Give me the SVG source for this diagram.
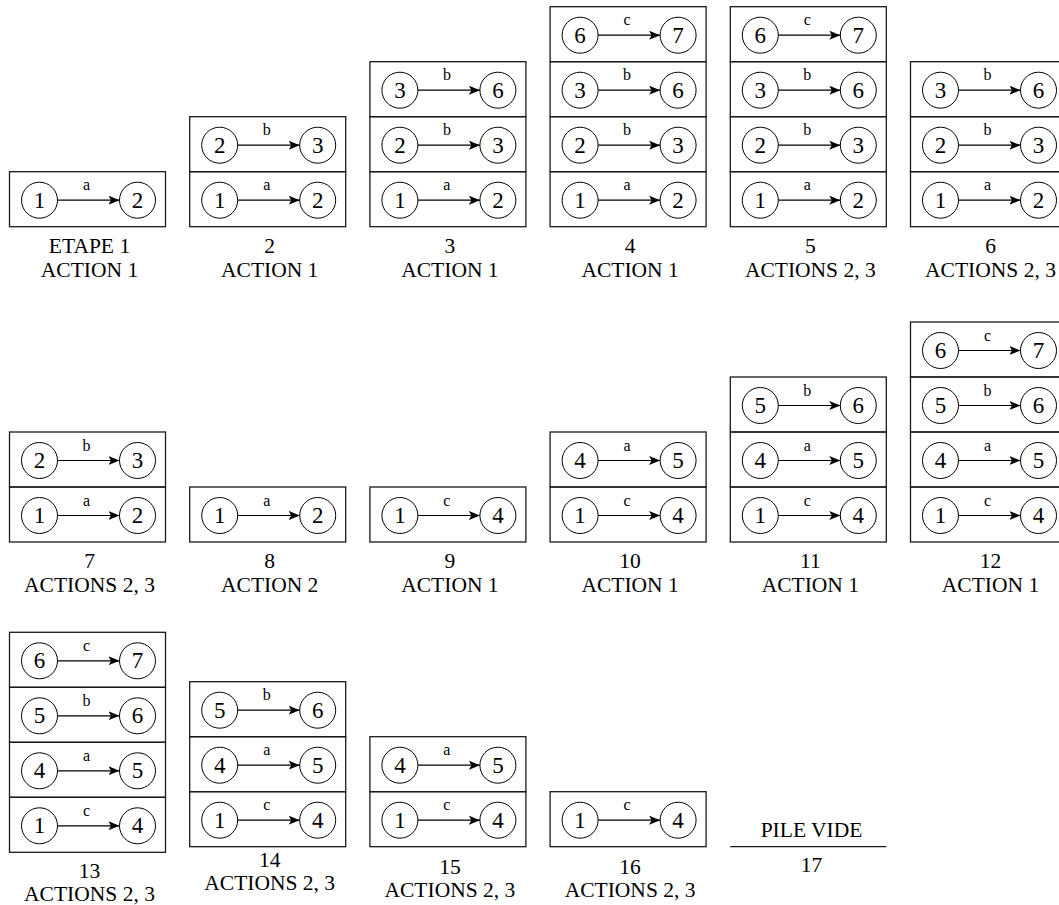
<svg xmlns="http://www.w3.org/2000/svg" width="1059" height="905" viewBox="0 0 1059 905" font-family="Liberation Serif, Times New Roman, DejaVu Serif, serif">
<style>
.box{fill:none;stroke:#1a1a1a;stroke-width:1.3}
.nd{fill:#fff;stroke:#000;stroke-width:1}
text{font-family:"Liberation Serif","Times New Roman","DejaVu Serif",serif;fill:#000;text-anchor:middle}
.num{font-size:23px}
.lbl{font-size:16px}
.cap{font-size:21.5px}
.arr{stroke:#000;stroke-width:1.2;fill:none;marker-end:url(#ah)}
</style>
<defs>
<marker id="ah" markerUnits="userSpaceOnUse" markerWidth="12" markerHeight="10" refX="11" refY="4.5" orient="auto">
<path d="M0,0 L11,4.5 L0,9 L2.5,4.5 Z" fill="#000"/>
</marker>
</defs>
<rect width="1059" height="905" fill="#fff"/>

<!-- stack 1 -->
<g id="s1">
<g transform="translate(9.5,171.7)"><rect class="box" width="156" height="55"/><circle class="nd" cx="30" cy="28.5" r="18"/><circle class="nd" cx="128" cy="28.5" r="18"/><text class="num" x="30" y="36">1</text><text class="num" x="128" y="36">2</text></g>
<text class="cap" x="89.5" y="252.7">ETAPE 1</text><text class="cap" x="89.5" y="276.7">ACTION 1</text>
</g>
<!-- stack 2 -->
<g id="s2">
<g transform="translate(189.7,171.7)"><rect class="box" width="156" height="55"/><circle class="nd" cx="30" cy="28.5" r="18"/><circle class="nd" cx="128" cy="28.5" r="18"/><text class="num" x="30" y="36">1</text><text class="num" x="128" y="36">2</text></g>
<g transform="translate(189.7,116.7)"><rect class="box" width="156" height="55"/><circle class="nd" cx="30" cy="28.5" r="18"/><circle class="nd" cx="128" cy="28.5" r="18"/><text class="num" x="30" y="36">2</text><text class="num" x="128" y="36">3</text></g>
<text class="cap" x="269.7" y="252.7">2</text><text class="cap" x="269.7" y="276.7">ACTION 1</text>
</g>
<!-- stack 3 -->
<g id="s3">
<g transform="translate(369.9,171.7)"><rect class="box" width="156" height="55"/><circle class="nd" cx="30" cy="28.5" r="18"/><circle class="nd" cx="128" cy="28.5" r="18"/><text class="num" x="30" y="36">1</text><text class="num" x="128" y="36">2</text></g>
<g transform="translate(369.9,116.7)"><rect class="box" width="156" height="55"/><circle class="nd" cx="30" cy="28.5" r="18"/><circle class="nd" cx="128" cy="28.5" r="18"/><text class="num" x="30" y="36">2</text><text class="num" x="128" y="36">3</text></g>
<g transform="translate(369.9,61.7)"><rect class="box" width="156" height="55"/><circle class="nd" cx="30" cy="28.5" r="18"/><circle class="nd" cx="128" cy="28.5" r="18"/><text class="num" x="30" y="36">3</text><text class="num" x="128" y="36">6</text></g>
<text class="cap" x="449.9" y="252.7">3</text><text class="cap" x="449.9" y="276.7">ACTION 1</text>
</g>
<!-- stack 4 -->
<g id="s4">
<g transform="translate(550.1,171.7)"><rect class="box" width="156" height="55"/><circle class="nd" cx="30" cy="28.5" r="18"/><circle class="nd" cx="128" cy="28.5" r="18"/><text class="num" x="30" y="36">1</text><text class="num" x="128" y="36">2</text></g>
<g transform="translate(550.1,116.7)"><rect class="box" width="156" height="55"/><circle class="nd" cx="30" cy="28.5" r="18"/><circle class="nd" cx="128" cy="28.5" r="18"/><text class="num" x="30" y="36">2</text><text class="num" x="128" y="36">3</text></g>
<g transform="translate(550.1,61.7)"><rect class="box" width="156" height="55"/><circle class="nd" cx="30" cy="28.5" r="18"/><circle class="nd" cx="128" cy="28.5" r="18"/><text class="num" x="30" y="36">3</text><text class="num" x="128" y="36">6</text></g>
<g transform="translate(550.1,6.7)"><rect class="box" width="156" height="55"/><circle class="nd" cx="30" cy="28.5" r="18"/><circle class="nd" cx="128" cy="28.5" r="18"/><text class="num" x="30" y="36">6</text><text class="num" x="128" y="36">7</text></g>
<text class="cap" x="630.1" y="252.7">4</text><text class="cap" x="630.1" y="276.7">ACTION 1</text>
</g>
<!-- stack 5 -->
<g id="s5">
<g transform="translate(730.3,171.7)"><rect class="box" width="156" height="55"/><circle class="nd" cx="30" cy="28.5" r="18"/><circle class="nd" cx="128" cy="28.5" r="18"/><text class="num" x="30" y="36">1</text><text class="num" x="128" y="36">2</text></g>
<g transform="translate(730.3,116.7)"><rect class="box" width="156" height="55"/><circle class="nd" cx="30" cy="28.5" r="18"/><circle class="nd" cx="128" cy="28.5" r="18"/><text class="num" x="30" y="36">2</text><text class="num" x="128" y="36">3</text></g>
<g transform="translate(730.3,61.7)"><rect class="box" width="156" height="55"/><circle class="nd" cx="30" cy="28.5" r="18"/><circle class="nd" cx="128" cy="28.5" r="18"/><text class="num" x="30" y="36">3</text><text class="num" x="128" y="36">6</text></g>
<g transform="translate(730.3,6.7)"><rect class="box" width="156" height="55"/><circle class="nd" cx="30" cy="28.5" r="18"/><circle class="nd" cx="128" cy="28.5" r="18"/><text class="num" x="30" y="36">6</text><text class="num" x="128" y="36">7</text></g>
<text class="cap" x="810.3" y="252.7">5</text><text class="cap" x="810.3" y="276.7">ACTIONS 2, 3</text>
</g>
<!-- stack 6 -->
<g id="s6">
<g transform="translate(910.5,171.7)"><rect class="box" width="156" height="55"/><circle class="nd" cx="30" cy="28.5" r="18"/><circle class="nd" cx="128" cy="28.5" r="18"/><text class="num" x="30" y="36">1</text><text class="num" x="128" y="36">2</text></g>
<g transform="translate(910.5,116.7)"><rect class="box" width="156" height="55"/><circle class="nd" cx="30" cy="28.5" r="18"/><circle class="nd" cx="128" cy="28.5" r="18"/><text class="num" x="30" y="36">2</text><text class="num" x="128" y="36">3</text></g>
<g transform="translate(910.5,61.7)"><rect class="box" width="156" height="55"/><circle class="nd" cx="30" cy="28.5" r="18"/><circle class="nd" cx="128" cy="28.5" r="18"/><text class="num" x="30" y="36">3</text><text class="num" x="128" y="36">6</text></g>
<text class="cap" x="990.5" y="252.7">6</text><text class="cap" x="990.5" y="276.7">ACTIONS 2, 3</text>
</g>

<!-- stack 7 -->
<g id="s7">
<g transform="translate(9.5,487)"><rect class="box" width="156" height="55"/><circle class="nd" cx="30" cy="28.5" r="18"/><circle class="nd" cx="128" cy="28.5" r="18"/><text class="num" x="30" y="36">1</text><text class="num" x="128" y="36">2</text></g>
<g transform="translate(9.5,432)"><rect class="box" width="156" height="55"/><circle class="nd" cx="30" cy="28.5" r="18"/><circle class="nd" cx="128" cy="28.5" r="18"/><text class="num" x="30" y="36">2</text><text class="num" x="128" y="36">3</text></g>
<text class="cap" x="89.5" y="568">7</text><text class="cap" x="89.5" y="592">ACTIONS 2, 3</text>
</g>
<!-- stack 8 -->
<g id="s8">
<g transform="translate(189.7,487)"><rect class="box" width="156" height="55"/><circle class="nd" cx="30" cy="28.5" r="18"/><circle class="nd" cx="128" cy="28.5" r="18"/><text class="num" x="30" y="36">1</text><text class="num" x="128" y="36">2</text></g>
<text class="cap" x="269.7" y="568">8</text><text class="cap" x="269.7" y="592">ACTION 2</text>
</g>
<!-- stack 9 -->
<g id="s9">
<g transform="translate(369.9,487)"><rect class="box" width="156" height="55"/><circle class="nd" cx="30" cy="28.5" r="18"/><circle class="nd" cx="128" cy="28.5" r="18"/><text class="num" x="30" y="36">1</text><text class="num" x="128" y="36">4</text></g>
<text class="cap" x="449.9" y="568">9</text><text class="cap" x="449.9" y="592">ACTION 1</text>
</g>
<!-- stack 10 -->
<g id="s10">
<g transform="translate(550.1,487)"><rect class="box" width="156" height="55"/><circle class="nd" cx="30" cy="28.5" r="18"/><circle class="nd" cx="128" cy="28.5" r="18"/><text class="num" x="30" y="36">1</text><text class="num" x="128" y="36">4</text></g>
<g transform="translate(550.1,432)"><rect class="box" width="156" height="55"/><circle class="nd" cx="30" cy="28.5" r="18"/><circle class="nd" cx="128" cy="28.5" r="18"/><text class="num" x="30" y="36">4</text><text class="num" x="128" y="36">5</text></g>
<text class="cap" x="630.1" y="568">10</text><text class="cap" x="630.1" y="592">ACTION 1</text>
</g>
<!-- stack 11 -->
<g id="s11">
<g transform="translate(730.3,487)"><rect class="box" width="156" height="55"/><circle class="nd" cx="30" cy="28.5" r="18"/><circle class="nd" cx="128" cy="28.5" r="18"/><text class="num" x="30" y="36">1</text><text class="num" x="128" y="36">4</text></g>
<g transform="translate(730.3,432)"><rect class="box" width="156" height="55"/><circle class="nd" cx="30" cy="28.5" r="18"/><circle class="nd" cx="128" cy="28.5" r="18"/><text class="num" x="30" y="36">4</text><text class="num" x="128" y="36">5</text></g>
<g transform="translate(730.3,377)"><rect class="box" width="156" height="55"/><circle class="nd" cx="30" cy="28.5" r="18"/><circle class="nd" cx="128" cy="28.5" r="18"/><text class="num" x="30" y="36">5</text><text class="num" x="128" y="36">6</text></g>
<text class="cap" x="810.3" y="568">11</text><text class="cap" x="810.3" y="592">ACTION 1</text>
</g>
<!-- stack 12 -->
<g id="s12">
<g transform="translate(910.5,487)"><rect class="box" width="156" height="55"/><circle class="nd" cx="30" cy="28.5" r="18"/><circle class="nd" cx="128" cy="28.5" r="18"/><text class="num" x="30" y="36">1</text><text class="num" x="128" y="36">4</text></g>
<g transform="translate(910.5,432)"><rect class="box" width="156" height="55"/><circle class="nd" cx="30" cy="28.5" r="18"/><circle class="nd" cx="128" cy="28.5" r="18"/><text class="num" x="30" y="36">4</text><text class="num" x="128" y="36">5</text></g>
<g transform="translate(910.5,377)"><rect class="box" width="156" height="55"/><circle class="nd" cx="30" cy="28.5" r="18"/><circle class="nd" cx="128" cy="28.5" r="18"/><text class="num" x="30" y="36">5</text><text class="num" x="128" y="36">6</text></g>
<g transform="translate(910.5,322)"><rect class="box" width="156" height="55"/><circle class="nd" cx="30" cy="28.5" r="18"/><circle class="nd" cx="128" cy="28.5" r="18"/><text class="num" x="30" y="36">6</text><text class="num" x="128" y="36">7</text></g>
<text class="cap" x="990.5" y="568">12</text><text class="cap" x="990.5" y="592">ACTION 1</text>
</g>

<!-- stack 13 -->
<g id="s13">
<g transform="translate(9.5,797.3)"><rect class="box" width="156" height="55"/><circle class="nd" cx="30" cy="28.5" r="18"/><circle class="nd" cx="128" cy="28.5" r="18"/><text class="num" x="30" y="36">1</text><text class="num" x="128" y="36">4</text></g>
<g transform="translate(9.5,742.3)"><rect class="box" width="156" height="55"/><circle class="nd" cx="30" cy="28.5" r="18"/><circle class="nd" cx="128" cy="28.5" r="18"/><text class="num" x="30" y="36">4</text><text class="num" x="128" y="36">5</text></g>
<g transform="translate(9.5,687.3)"><rect class="box" width="156" height="55"/><circle class="nd" cx="30" cy="28.5" r="18"/><circle class="nd" cx="128" cy="28.5" r="18"/><text class="num" x="30" y="36">5</text><text class="num" x="128" y="36">6</text></g>
<g transform="translate(9.5,632.3)"><rect class="box" width="156" height="55"/><circle class="nd" cx="30" cy="28.5" r="18"/><circle class="nd" cx="128" cy="28.5" r="18"/><text class="num" x="30" y="36">6</text><text class="num" x="128" y="36">7</text></g>
<text class="cap" x="89.5" y="878">13</text><text class="cap" x="89.5" y="901">ACTIONS 2, 3</text>
</g>
<!-- stack 14 -->
<g id="s14">
<g transform="translate(189.7,791.7)"><rect class="box" width="156" height="55"/><circle class="nd" cx="30" cy="28.5" r="18"/><circle class="nd" cx="128" cy="28.5" r="18"/><text class="num" x="30" y="36">1</text><text class="num" x="128" y="36">4</text></g>
<g transform="translate(189.7,736.7)"><rect class="box" width="156" height="55"/><circle class="nd" cx="30" cy="28.5" r="18"/><circle class="nd" cx="128" cy="28.5" r="18"/><text class="num" x="30" y="36">4</text><text class="num" x="128" y="36">5</text></g>
<g transform="translate(189.7,681.7)"><rect class="box" width="156" height="55"/><circle class="nd" cx="30" cy="28.5" r="18"/><circle class="nd" cx="128" cy="28.5" r="18"/><text class="num" x="30" y="36">5</text><text class="num" x="128" y="36">6</text></g>
<text class="cap" x="269.7" y="867">14</text><text class="cap" x="269.7" y="890">ACTIONS 2, 3</text>
</g>
<!-- stack 15 -->
<g id="s15">
<g transform="translate(369.9,791.7)"><rect class="box" width="156" height="55"/><circle class="nd" cx="30" cy="28.5" r="18"/><circle class="nd" cx="128" cy="28.5" r="18"/><text class="num" x="30" y="36">1</text><text class="num" x="128" y="36">4</text></g>
<g transform="translate(369.9,736.7)"><rect class="box" width="156" height="55"/><circle class="nd" cx="30" cy="28.5" r="18"/><circle class="nd" cx="128" cy="28.5" r="18"/><text class="num" x="30" y="36">4</text><text class="num" x="128" y="36">5</text></g>
<text class="cap" x="449.9" y="874">15</text><text class="cap" x="449.9" y="897">ACTIONS 2, 3</text>
</g>
<!-- stack 16 -->
<g id="s16">
<g transform="translate(550.1,791.7)"><rect class="box" width="156" height="55"/><circle class="nd" cx="30" cy="28.5" r="18"/><circle class="nd" cx="128" cy="28.5" r="18"/><text class="num" x="30" y="36">1</text><text class="num" x="128" y="36">4</text></g>
<text class="cap" x="630.1" y="874">16</text><text class="cap" x="630.1" y="897">ACTIONS 2, 3</text>
</g>
<!-- stack 17: empty -->
<g id="s17">
<text class="cap" x="811.5" y="837">PILE VIDE</text>
<line x1="730.3" y1="846.7" x2="886.3" y2="846.7" stroke="#1a1a1a" stroke-width="1.3"/>
<text class="cap" x="811.5" y="872">17</text>
</g>

<!-- labelled arrows inside every cell -->
<g id="connectors">
<g transform="translate(9.5,171.7)"><line class="arr" x1="48" y1="28.5" x2="110" y2="28.5"/><text class="lbl" x="77" y="18.5">a</text></g>

<g transform="translate(189.7,171.7)"><line class="arr" x1="48" y1="28.5" x2="110" y2="28.5"/><text class="lbl" x="77" y="18.5">a</text></g>
<g transform="translate(189.7,116.7)"><line class="arr" x1="48" y1="28.5" x2="110" y2="28.5"/><text class="lbl" x="77" y="18.5">b</text></g>

<g transform="translate(369.9,171.7)"><line class="arr" x1="48" y1="28.5" x2="110" y2="28.5"/><text class="lbl" x="77" y="18.5">a</text></g>
<g transform="translate(369.9,116.7)"><line class="arr" x1="48" y1="28.5" x2="110" y2="28.5"/><text class="lbl" x="77" y="18.5">b</text></g>
<g transform="translate(369.9,61.7)"><line class="arr" x1="48" y1="28.5" x2="110" y2="28.5"/><text class="lbl" x="77" y="18.5">b</text></g>

<g transform="translate(550.1,171.7)"><line class="arr" x1="48" y1="28.5" x2="110" y2="28.5"/><text class="lbl" x="77" y="18.5">a</text></g>
<g transform="translate(550.1,116.7)"><line class="arr" x1="48" y1="28.5" x2="110" y2="28.5"/><text class="lbl" x="77" y="18.5">b</text></g>
<g transform="translate(550.1,61.7)"><line class="arr" x1="48" y1="28.5" x2="110" y2="28.5"/><text class="lbl" x="77" y="18.5">b</text></g>
<g transform="translate(550.1,6.7)"><line class="arr" x1="48" y1="28.5" x2="110" y2="28.5"/><text class="lbl" x="77" y="18.5">c</text></g>

<g transform="translate(730.3,171.7)"><line class="arr" x1="48" y1="28.5" x2="110" y2="28.5"/><text class="lbl" x="77" y="18.5">a</text></g>
<g transform="translate(730.3,116.7)"><line class="arr" x1="48" y1="28.5" x2="110" y2="28.5"/><text class="lbl" x="77" y="18.5">b</text></g>
<g transform="translate(730.3,61.7)"><line class="arr" x1="48" y1="28.5" x2="110" y2="28.5"/><text class="lbl" x="77" y="18.5">b</text></g>
<g transform="translate(730.3,6.7)"><line class="arr" x1="48" y1="28.5" x2="110" y2="28.5"/><text class="lbl" x="77" y="18.5">c</text></g>

<g transform="translate(910.5,171.7)"><line class="arr" x1="48" y1="28.5" x2="110" y2="28.5"/><text class="lbl" x="77" y="18.5">a</text></g>
<g transform="translate(910.5,116.7)"><line class="arr" x1="48" y1="28.5" x2="110" y2="28.5"/><text class="lbl" x="77" y="18.5">b</text></g>
<g transform="translate(910.5,61.7)"><line class="arr" x1="48" y1="28.5" x2="110" y2="28.5"/><text class="lbl" x="77" y="18.5">b</text></g>

<g transform="translate(9.5,487)"><line class="arr" x1="48" y1="28.5" x2="110" y2="28.5"/><text class="lbl" x="77" y="18.5">a</text></g>
<g transform="translate(9.5,432)"><line class="arr" x1="48" y1="28.5" x2="110" y2="28.5"/><text class="lbl" x="77" y="18.5">b</text></g>

<g transform="translate(189.7,487)"><line class="arr" x1="48" y1="28.5" x2="110" y2="28.5"/><text class="lbl" x="77" y="18.5">a</text></g>

<g transform="translate(369.9,487)"><line class="arr" x1="48" y1="28.5" x2="110" y2="28.5"/><text class="lbl" x="77" y="18.5">c</text></g>

<g transform="translate(550.1,487)"><line class="arr" x1="48" y1="28.5" x2="110" y2="28.5"/><text class="lbl" x="77" y="18.5">c</text></g>
<g transform="translate(550.1,432)"><line class="arr" x1="48" y1="28.5" x2="110" y2="28.5"/><text class="lbl" x="77" y="18.5">a</text></g>

<g transform="translate(730.3,487)"><line class="arr" x1="48" y1="28.5" x2="110" y2="28.5"/><text class="lbl" x="77" y="18.5">c</text></g>
<g transform="translate(730.3,432)"><line class="arr" x1="48" y1="28.5" x2="110" y2="28.5"/><text class="lbl" x="77" y="18.5">a</text></g>
<g transform="translate(730.3,377)"><line class="arr" x1="48" y1="28.5" x2="110" y2="28.5"/><text class="lbl" x="77" y="18.5">b</text></g>

<g transform="translate(910.5,487)"><line class="arr" x1="48" y1="28.5" x2="110" y2="28.5"/><text class="lbl" x="77" y="18.5">c</text></g>
<g transform="translate(910.5,432)"><line class="arr" x1="48" y1="28.5" x2="110" y2="28.5"/><text class="lbl" x="77" y="18.5">a</text></g>
<g transform="translate(910.5,377)"><line class="arr" x1="48" y1="28.5" x2="110" y2="28.5"/><text class="lbl" x="77" y="18.5">b</text></g>
<g transform="translate(910.5,322)"><line class="arr" x1="48" y1="28.5" x2="110" y2="28.5"/><text class="lbl" x="77" y="18.5">c</text></g>

<g transform="translate(9.5,797.3)"><line class="arr" x1="48" y1="28.5" x2="110" y2="28.5"/><text class="lbl" x="77" y="18.5">c</text></g>
<g transform="translate(9.5,742.3)"><line class="arr" x1="48" y1="28.5" x2="110" y2="28.5"/><text class="lbl" x="77" y="18.5">a</text></g>
<g transform="translate(9.5,687.3)"><line class="arr" x1="48" y1="28.5" x2="110" y2="28.5"/><text class="lbl" x="77" y="18.5">b</text></g>
<g transform="translate(9.5,632.3)"><line class="arr" x1="48" y1="28.5" x2="110" y2="28.5"/><text class="lbl" x="77" y="18.5">c</text></g>

<g transform="translate(189.7,791.7)"><line class="arr" x1="48" y1="28.5" x2="110" y2="28.5"/><text class="lbl" x="77" y="18.5">c</text></g>
<g transform="translate(189.7,736.7)"><line class="arr" x1="48" y1="28.5" x2="110" y2="28.5"/><text class="lbl" x="77" y="18.5">a</text></g>
<g transform="translate(189.7,681.7)"><line class="arr" x1="48" y1="28.5" x2="110" y2="28.5"/><text class="lbl" x="77" y="18.5">b</text></g>

<g transform="translate(369.9,791.7)"><line class="arr" x1="48" y1="28.5" x2="110" y2="28.5"/><text class="lbl" x="77" y="18.5">c</text></g>
<g transform="translate(369.9,736.7)"><line class="arr" x1="48" y1="28.5" x2="110" y2="28.5"/><text class="lbl" x="77" y="18.5">a</text></g>

<g transform="translate(550.1,791.7)"><line class="arr" x1="48" y1="28.5" x2="110" y2="28.5"/><text class="lbl" x="77" y="18.5">c</text></g>
</g>
</svg>
